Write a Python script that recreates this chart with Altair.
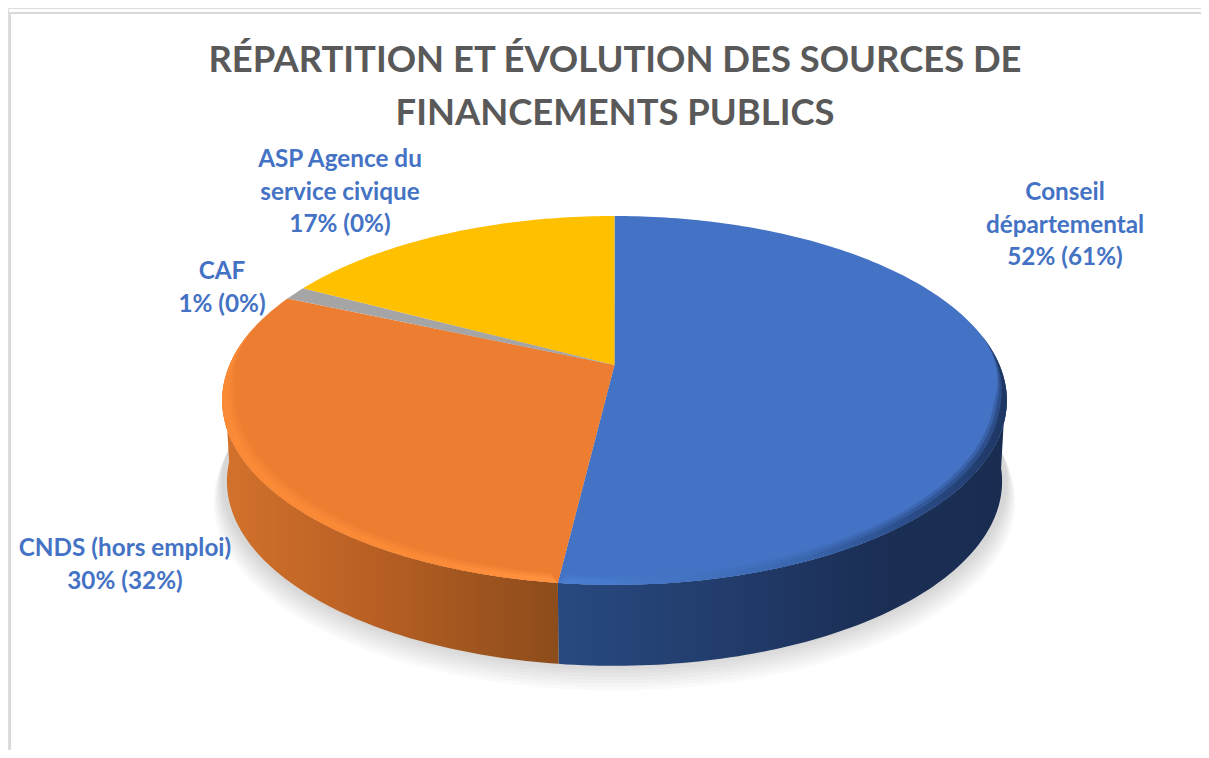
import math
import altair as alt

# ---- data ----
CATEGORIES = ["Conseil départemental", "CNDS (hors emploi)", "CAF", "ASP Agence du service civique"]
SHARES = [51.9, 29.7, 1.2, 17.2]
PREVIOUS = [61, 32, 0, 0]
TOP_COLORS = ["#4472c4", "#ed7d31", "#a5a5a5", "#ffc000"]
TITLE_LINES = ["RÉPARTITION ET ÉVOLUTION DES SOURCES DE", "FINANCEMENTS PUBLICS"]
LABEL_LINES = [
    ["Conseil", "départemental"],
    ["CNDS (hors emploi)"],
    ["CAF"],
    ["ASP Agence du", "service civique"],
]

# ---- perspective of the pie (page pixels) ----
CX, CY = 614.5, 365.0
RX, RY, K = 385.0, 177.6, 0.192
DEPTH = 81.0
FONT = "Lato"
LABEL_COLOR = "#4472c4"


def rim(deg, dy=0.0, sx=1.0, sy=1.0):
    t = math.radians(deg)
    u, v = math.sin(t), math.cos(t)
    d = 1 + K * v
    return [CX + sx * RX * u / d, CY + dy - sy * RY * v / d]


def arc(a, b, **kw):
    n = max(2, int(abs(b - a) / 1.0) + 1)
    return [rim(a + (b - a) * i / (n - 1), **kw) for i in range(n)]


def bevel_inner(a, b, off, fade_a, fade_b):
    """Inner edge of the rim bevel between angles a and b; it tapers to nothing towards both ends."""
    n = max(2, int(abs(b - a)) + 1)
    out = []
    for i in range(n):
        deg = a + (b - a) * i / (n - 1)
        w = min(1.0, abs(deg - a) / fade_a, abs(deg - b) / fade_b)
        out.append(rim(deg, dy=-off * w, sx=1 - 0.0035 * off * w))
    return out


def shape(points):
    pts = points + [points[0]]
    return {"type": "Feature", "properties": {}, "geometry": {"type": "Polygon", "coordinates": [pts]}}


def poly(points, **mark):
    mark.setdefault("strokeWidth", 0)
    return alt.Chart(alt.Data(values=[shape(points)])).mark_geoshape(**mark).project(type="identity", scale=1, translate=[-8, -8])


def grad(stops):
    return alt.Gradient(
        gradient="linear", x1=0, x2=1, y1=0, y2=0,
        stops=[alt.GradientStop(offset=o, color=c) for o, c in stops],
    )


# slice boundaries, clockwise from 12 o'clock, from the shares
total = sum(SHARES)
edges = [0.0]
for s in SHARES:
    edges.append(edges[-1] + 360.0 * s / total)

layers = []

# frame
layers.append(alt.Chart(alt.Data(values=[{"a": 0}])).mark_rule(color="#d9d9d9", strokeWidth=2).encode(
    x=alt.value(2), y=alt.value(5), y2=alt.value(742)))
layers.append(alt.Chart(alt.Data(values=[{"a": 0}])).mark_rule(color="#d9d9d9", strokeWidth=2).encode(
    x=alt.value(1), x2=alt.value(1193), y=alt.value(5)))

# soft shadow under the pie
SHADOW_STEPS = [1.022, 1.019, 1.016, 1.013, 1.010, 1.007, 1.004, 1.001]
for g in SHADOW_STEPS:
    dy = DEPTH + (g - 1) * 900
    layers.append(poly(arc(0, 360, dy=dy, sx=g, sy=g), fill="#000000", fillOpacity=0.02))

# side wall: only the front-facing part of each of the two large slices
WALL_BLUE = grad([(0, "#28497f"), (0.35, "#223d6d"), (0.7, "#1b2f56"), (1, "#192c50")])
WALL_ORANGE = grad([(0, "#d2722c"), (0.45, "#b85f24"), (1, "#8c4c1b")])
wall_kw = dict(dy=DEPTH, sx=0.988)
layers.append(poly(arc(97, edges[1]) + arc(edges[1], 97, **wall_kw), fill=WALL_BLUE))
layers.append(poly(arc(edges[1], 265) + arc(265, edges[1], **wall_kw), fill=WALL_ORANGE))

# top face
for i in range(len(SHARES)):
    layers.append(poly([[CX, CY]] + arc(edges[i], edges[i + 1]), fill=TOP_COLORS[i]))

# bevel along the front rim
BEVEL_BLUE = grad([(0, "#4c7fd2"), (0.3, "#4272c0"), (0.55, "#3a66ad"), (0.8, "#2a4b87"), (1, "#1e3763")])
BEVEL_ORANGE = grad([(0, "#fb8a37"), (0.6, "#fb8a37"), (1, "#ff9240")])
for off, op in [(9, 0.3), (7, 0.5), (4.5, 1.0)]:
    layers.append(poly(arc(80, edges[1]) + bevel_inner(edges[1], 80, off, 0.5, 25), fill=BEVEL_BLUE, fillOpacity=op))
    layers.append(poly(arc(edges[1], 285) + bevel_inner(285, edges[1], off, 25, 0.5), fill=BEVEL_ORANGE, fillOpacity=op))

# data labels, drawn from the category names and the two percentages
LABEL_ANCHORS = [(1065, 193), (125, 549), (222, 272), (340, 160)]
LINE_STEP = 32.5
rows = []
for lines, cur, prev, (ax, ay) in zip(LABEL_LINES, SHARES, PREVIOUS, LABEL_ANCHORS):
    rows.append({"text": lines + [f"{round(cur)}% ({prev}%)"], "px": ax - 8, "py": ay - 8})

labels = alt.Chart(alt.Data(values=rows)).mark_text(
    font=FONT, fontWeight="bold", fontSize=24.3, color=LABEL_COLOR, align="center",
    baseline="middle", lineHeight=LINE_STEP,
).encode(
    x=alt.X("px:Q", scale=None),
    y=alt.Y("py:Q", scale=None),
    text="text:N",
)
layers.append(labels)

chart = alt.layer(*layers).properties(
    width=1193,
    height=742,
    padding=0,
    autosize=alt.AutoSizeParams(type="none"),
    title=alt.TitleParams(
        text=TITLE_LINES, font=FONT, fontSize=36.4, fontWeight="bold", color="#595959",
        anchor="start", align="center", baseline="top", frame="group", offset=0,
        lineHeight=52.5, dx=607, dy=124,
    ),
).configure_view(stroke=None).configure(background="white")

chart.save("out.html", embed_options={"renderer": "svg", "actions": False})
